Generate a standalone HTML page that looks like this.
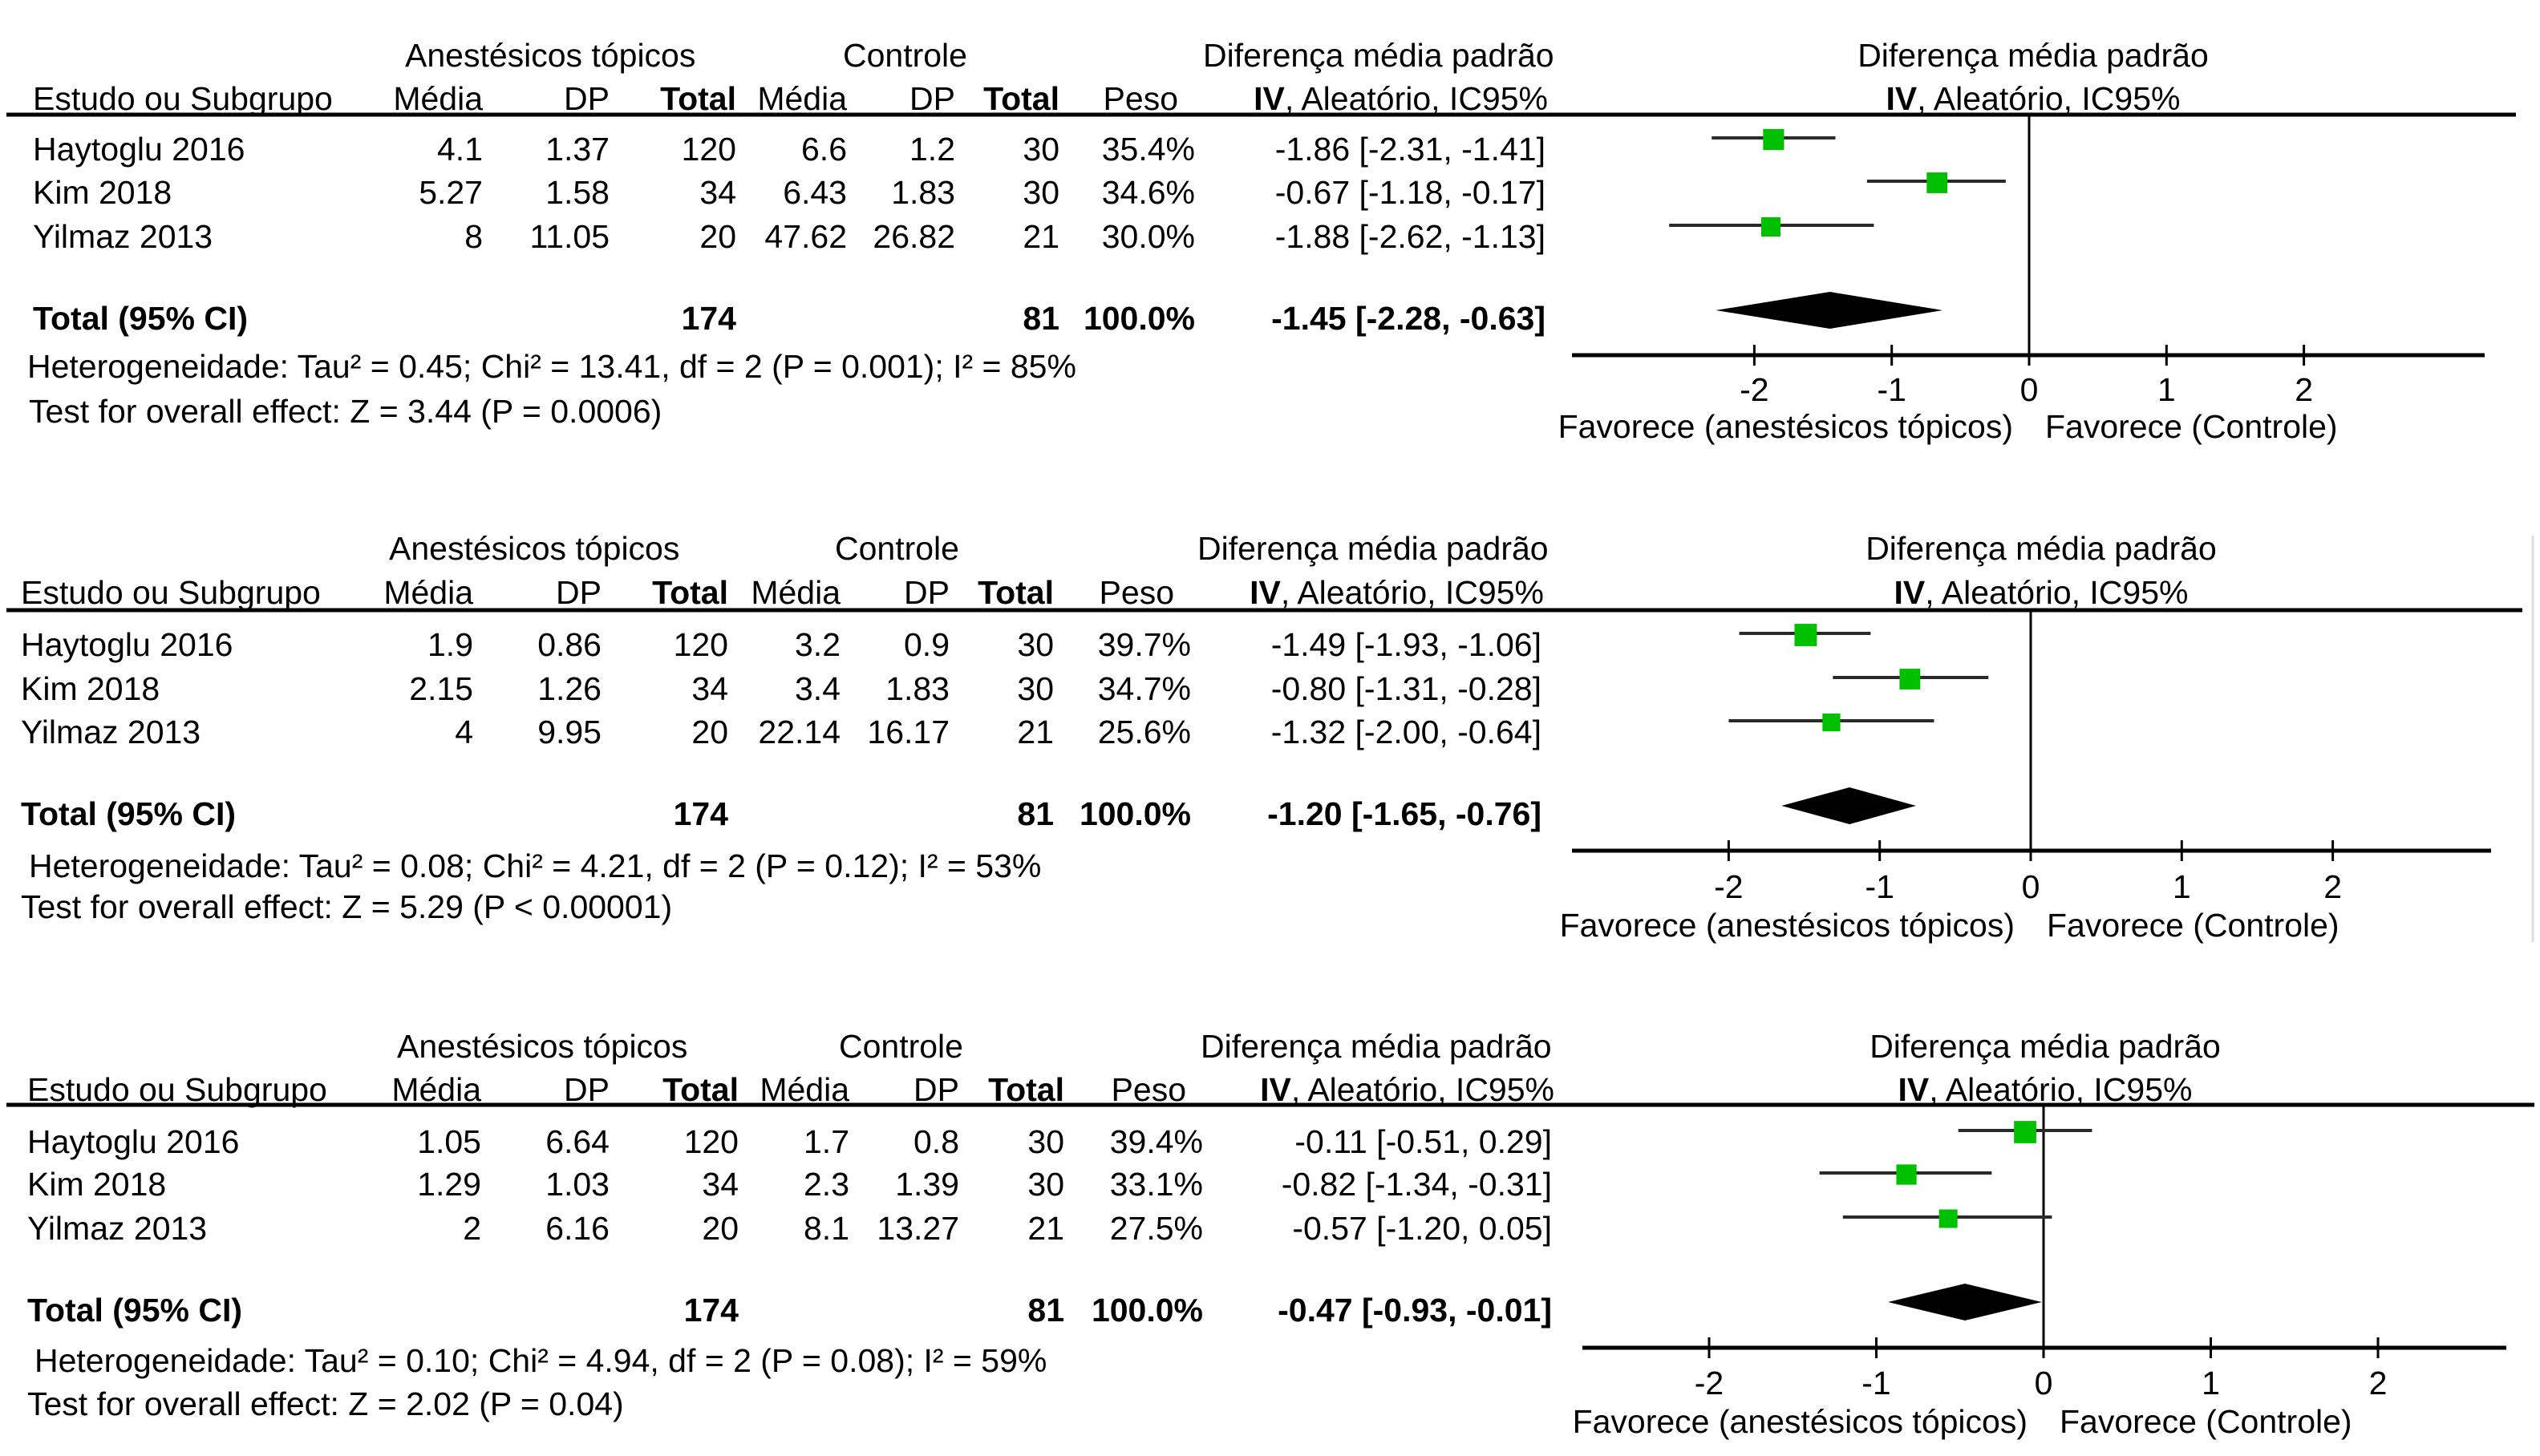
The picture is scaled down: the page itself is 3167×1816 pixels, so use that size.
<!DOCTYPE html>
<html><head><meta charset="utf-8">
<style>
html,body{margin:0;padding:0;background:#fff;}
svg{display:block;font-family:"Liberation Sans",Arial,sans-serif;}
</style></head>
<body>
<svg id="chart" width="3167" height="1816" viewBox="0 0 3167 1816" xmlns="http://www.w3.org/2000/svg"></svg>
<script>
// ---- data ----
const studies = ["Haytoglu 2016", "Kim 2018", "Yilmaz 2013"];
const tickValues = [-2, -1, 0, 1, 2];
const tickLabels = ["-2", "-1", "0", "1", "2"];
// panel 1
const p1ExpMean = ["4.1", "5.27", "8"];
const p1ExpSD = ["1.37", "1.58", "11.05"];
const p1ExpN = ["120", "34", "20"];
const p1CtlMean = ["6.6", "6.43", "47.62"];
const p1CtlSD = ["1.2", "1.83", "26.82"];
const p1CtlN = ["30", "30", "21"];
const p1Weight = [35.4, 34.6, 30.0];
const p1Est = [-1.86, -0.67, -1.88];
const p1Lo = [-2.31, -1.18, -2.62];
const p1Hi = [-1.41, -0.17, -1.13];
const p1Total = [-1.45, -2.28, -0.63];
const p1Het = "Heterogeneidade: Tau² = 0.45; Chi² = 13.41, df = 2 (P = 0.001); I² = 85%";
const p1Test = "Test for overall effect: Z = 3.44 (P = 0.0006)";
// panel 2
const p2ExpMean = ["1.9", "2.15", "4"];
const p2ExpSD = ["0.86", "1.26", "9.95"];
const p2ExpN = ["120", "34", "20"];
const p2CtlMean = ["3.2", "3.4", "22.14"];
const p2CtlSD = ["0.9", "1.83", "16.17"];
const p2CtlN = ["30", "30", "21"];
const p2Weight = [39.7, 34.7, 25.6];
const p2Est = [-1.49, -0.80, -1.32];
const p2Lo = [-1.93, -1.31, -2.00];
const p2Hi = [-1.06, -0.28, -0.64];
const p2Total = [-1.20, -1.65, -0.76];
const p2Het = "Heterogeneidade: Tau² = 0.08; Chi² = 4.21, df = 2 (P = 0.12); I² = 53%";
const p2Test = "Test for overall effect: Z = 5.29 (P < 0.00001)";
// panel 3
const p3ExpMean = ["1.05", "1.29", "2"];
const p3ExpSD = ["6.64", "1.03", "6.16"];
const p3ExpN = ["120", "34", "20"];
const p3CtlMean = ["1.7", "2.3", "8.1"];
const p3CtlSD = ["0.8", "1.39", "13.27"];
const p3CtlN = ["30", "30", "21"];
const p3Weight = [39.4, 33.1, 27.5];
const p3Est = [-0.11, -0.82, -0.57];
const p3Lo = [-0.51, -1.34, -1.20];
const p3Hi = [0.29, -0.31, 0.05];
const p3Total = [-0.47, -0.93, -0.01];
const p3Het = "Heterogeneidade: Tau² = 0.10; Chi² = 4.94, df = 2 (P = 0.08); I² = 59%";
const p3Test = "Test for overall effect: Z = 2.02 (P = 0.04)";

// ---- layout ----
const panels = [
  {d:{em:p1ExpMean,es:p1ExpSD,en:p1ExpN,cm:p1CtlMean,cs:p1CtlSD,cn:p1CtlN,w:p1Weight,est:p1Est,lo:p1Lo,hi:p1Hi,tot:p1Total,het:p1Het,test:p1Test},
   h1:83,h2:137,rule:143,rows:[200,254,309],total:411,het:471,test:527,
   labelX:41,hetX:34,testX:36,anesX:505,ctlX:1051,difX:1500,
   cols:[602,760,918,1056,1191,1321,1490],valX:1927,
   zero:2530,unit:171.3,axisY:443,axisL:1960,axisR:3098,tickY:500,favY:546,rhX:2535,ruleR:3137},
  {d:{em:p2ExpMean,es:p2ExpSD,en:p2ExpN,cm:p2CtlMean,cs:p2CtlSD,cn:p2CtlN,w:p2Weight,est:p2Est,lo:p2Lo,hi:p2Hi,tot:p2Total,het:p2Het,test:p2Test},
   h1:698,h2:753,rule:761,rows:[818,873,927],total:1029,het:1094,test:1145,
   labelX:26,hetX:36,testX:26,anesX:485,ctlX:1041,difX:1493,
   cols:[590,750,908,1048,1184,1314,1485],valX:1922,
   zero:2532,unit:188.3,axisY:1061,axisL:1960,axisR:3106,tickY:1120,favY:1168,rhX:2545,ruleR:3145},
  {d:{em:p3ExpMean,es:p3ExpSD,en:p3ExpN,cm:p3CtlMean,cs:p3CtlSD,cn:p3CtlN,w:p3Weight,est:p3Est,lo:p3Lo,hi:p3Hi,tot:p3Total,het:p3Het,test:p3Test},
   h1:1319,h2:1373,rule:1378,rows:[1438,1491,1546],total:1648,het:1711,test:1765,
   labelX:34,hetX:43,testX:34,anesX:495,ctlX:1046,difX:1497,
   cols:[600,760,921,1059,1196,1327,1500],valX:1935,
   zero:2548,unit:208.5,axisY:1681,axisL:1973,axisR:3125,tickY:1739,favY:1787,rhX:2550,ruleR:3160}
];

const NS = "http://www.w3.org/2000/svg";
const svg = document.getElementById('chart');
function mk(tag, attrs, parent){
  const el = document.createElementNS(NS, tag);
  for (const k in attrs) el.setAttribute(k, attrs[k]);
  (parent||svg).appendChild(el);
  return el;
}
function txt(parent, x, y, s, anchor, bold, name){
  const t = mk('text', {x:x, y:y, 'font-size':41, fill:'#000', 'text-anchor':anchor||'start', 'font-weight':bold?'bold':'normal'}, parent);
  
  
  t.textContent = s;
  return t;
}
function f2(v){ return v.toFixed(2); }

panels.forEach((p, pi) => {
  const g = mk('g', {});
  
  
  const d = p.d;
  const xs = v => p.zero + v * p.unit;

  // headers
  txt(g, p.anesX, p.h1, "Anestésicos tópicos", 'start', false, 'experimental-group-header');
  txt(g, p.ctlX, p.h1, "Controle", 'start', false, 'control-group-header');
  txt(g, p.difX, p.h1, "Diferença média padrão", 'start', false, 'effect-column-header');
  txt(g, p.rhX, p.h1, "Diferença média padrão", 'middle', false, 'plot-header');
  txt(g, p.labelX, p.h2, "Estudo ou Subgrupo", 'start', false, 'study-column-header');
  txt(g, p.cols[0], p.h2, "Média", 'end', false, 'exp-mean-header');
  txt(g, p.cols[1], p.h2, "DP", 'end', false, 'exp-sd-header');
  txt(g, p.cols[2], p.h2, "Total", 'end', true, 'exp-total-header');
  txt(g, p.cols[3], p.h2, "Média", 'end', false, 'ctl-mean-header');
  txt(g, p.cols[4], p.h2, "DP", 'end', false, 'ctl-sd-header');
  txt(g, p.cols[5], p.h2, "Total", 'end', true, 'ctl-total-header');
  txt(g, p.cols[6]-21, p.h2, "Peso", 'end', false, 'weight-header');
  const iv1 = txt(g, p.valX+3, p.h2, "", 'end', false, 'effect-method-header');
  const b1 = document.createElementNS(NS,'tspan'); b1.setAttribute('font-weight','bold'); b1.textContent='IV'; iv1.appendChild(b1);
  iv1.appendChild(document.createTextNode(', Aleatório, IC95%'));
  const iv2 = txt(g, p.rhX, p.h2, "", 'middle', false, 'plot-method-header');
  const b2 = document.createElementNS(NS,'tspan'); b2.setAttribute('font-weight','bold'); b2.textContent='IV'; iv2.appendChild(b2);
  iv2.appendChild(document.createTextNode(', Aleatório, IC95%'));

  // header rule
  const r = mk('line', {x1:8, x2:p.ruleR, y1:p.rule, y2:p.rule, stroke:'#000', 'stroke-width':5}, g);
  
  

  // rows
  studies.forEach((s, i) => {
    const y = p.rows[i];
    txt(g, p.labelX, y, s, 'start', false, 'study-name');
    txt(g, p.cols[0], y, d.em[i], 'end', false, 'exp-mean');
    txt(g, p.cols[1], y, d.es[i], 'end', false, 'exp-sd');
    txt(g, p.cols[2], y, d.en[i], 'end', false, 'exp-total');
    txt(g, p.cols[3], y, d.cm[i], 'end', false, 'ctl-mean');
    txt(g, p.cols[4], y, d.cs[i], 'end', false, 'ctl-sd');
    txt(g, p.cols[5], y, d.cn[i], 'end', false, 'ctl-total');
    txt(g, p.cols[6], y, d.w[i].toFixed(1) + '%', 'end', false, 'weight');
    txt(g, p.valX, y, f2(d.est[i]) + ' [' + f2(d.lo[i]) + ', ' + f2(d.hi[i]) + ']', 'end', false, 'effect-ci');
  });

  // totals
  txt(g, p.labelX, p.total, "Total (95% CI)", 'start', true, 'total-label');
  txt(g, p.cols[2], p.total, "174", 'end', true, 'exp-total-n');
  txt(g, p.cols[5], p.total, "81", 'end', true, 'ctl-total-n');
  txt(g, p.cols[6], p.total, "100.0%", 'end', true, 'total-weight');
  txt(g, p.valX, p.total, f2(d.tot[0]) + ' [' + f2(d.tot[1]) + ', ' + f2(d.tot[2]) + ']', 'end', true, 'total-effect-ci');
  txt(g, p.hetX, p.het, d.het, 'start', false, 'heterogeneity-stats');
  txt(g, p.testX, p.test, d.test, 'start', false, 'overall-effect-test');

  // zero line
  const zl = mk('line', {x1:xs(0), x2:xs(0), y1:p.rule, y2:p.axisY, stroke:'#000', 'stroke-width':3}, g);
  
  

  // axis
  const ax = mk('line', {x1:p.axisL, x2:p.axisR, y1:p.axisY, y2:p.axisY, stroke:'#000', 'stroke-width':5}, g);
  
  
  tickValues.forEach((v, i) => {
    const tk = mk('line', {x1:xs(v), x2:xs(v), y1:p.axisY-13, y2:p.axisY+13, stroke:'#000', 'stroke-width':3}, g);
    
    
    txt(g, xs(v), p.tickY, tickLabels[i], 'middle', false, 'x-tick-label');
  });
  txt(g, xs(0)-20, p.favY, "Favorece (anestésicos tópicos)", 'end', false, 'favours-left-label');
  txt(g, xs(0)+20, p.favY, "Favorece (Controle)", 'start', false, 'favours-right-label');

  // study markers
  studies.forEach((s, i) => {
    const cy = p.rows[i] - 28;
    const wl = mk('line', {x1:xs(d.lo[i]), x2:xs(d.hi[i]), y1:cy, y2:cy, stroke:'#2a2a2a', 'stroke-width':4}, g);
    
    
    const side = 12 + 0.4 * d.w[i];
    const sq = mk('rect', {x:xs(d.est[i]) - side/2, y:cy - side/2 + 2, width:side, height:side, fill:'#00c000'}, g);
    
    
  });

  // diamond
  const dy = p.total - 24;
  const pts = [[xs(d.tot[1]), dy], [xs(d.tot[0]), dy-23], [xs(d.tot[2]), dy], [xs(d.tot[0]), dy+23]].map(q => q.join(',')).join(' ');
  const dm = mk('polygon', {points:pts, fill:'#000'}, g);
  
  
});
// faint border line at right of panel 2
const gl = mk('line', {x1:3158, x2:3158, y1:668, y2:1175, stroke:'#ddd', 'stroke-width':3});


</script>
</body></html>
